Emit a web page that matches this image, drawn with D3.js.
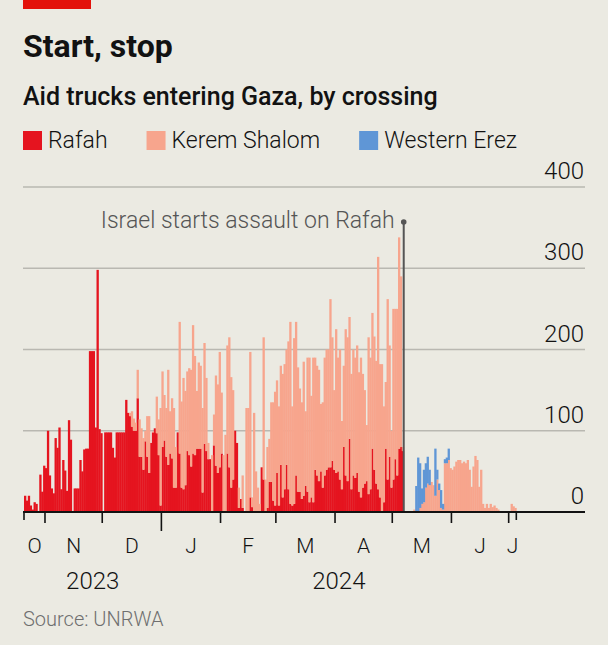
<!DOCTYPE html>
<html lang="en">
<head>
  <meta charset="UTF-8" />
  <title>Start, stop</title>
  <script src="https://d3js.org/d3.v7.min.js"></script>
  <style>
    body {
      margin: 0;
      background: #ebeae2;
    }
    svg {
      display: block;
      font-family: Roboto, 'Noto Sans', sans-serif;
    }
    .grid line {
      stroke: #b9b8b1;
      stroke-width: 1.5px;
    }
    .title {
      font-size: 32px;
      font-weight: 700;
      fill: #121212;
    }
    .subtitle {
      font-size: 25px;
      font-weight: 500;
      fill: #121212;
    }
    .legend text, .ylabel, .month, .year {
      font-weight: 300;
      fill: #121212;
    }
    .source {
      font-size: 20px;
      font-weight: 300;
      fill: #6f6f6f;
    }
    .note {
      font-size: 23px;
      font-weight: 300;
      fill: #555;
    }
  </style>
</head>
<body>

  <svg id="chart" width="608" height="645"></svg>

  <script>
    // daily truck counts from 21 Oct 2023, one value per day
    const firstDay = "2023-10-21";

    const rafah = [
      20, 14, 20, 8, 3, 12, 10, 0, 46, 25,
      57, 54, 100, 45, 29, 23, 91, 79, 104, 28,
      64, 51, 26, 113, 89, 0, 29, 29, 29, 64,
      50, 77, 78, 78, 198, 198, 198, 104, 298, 102,
      97, 0, 98, 98, 98, 98, 79, 67, 98, 98,
      98, 98, 98, 138, 122, 118, 105, 100, 100, 140,
      68, 68, 52, 87, 68, 48, 85, 98, 103, 97,
      70, 8, 80, 88, 68, 58, 72, 66, 30, 30,
      98, 72, 30, 28, 33, 75, 70, 56, 72, 70,
      78, 78, 78, 24, 84, 75, 65, 65, 0, 82,
      57, 48, 55, 72, 0, 0, 72, 55, 30, 40,
      100, 85, 5, 16, 5, 0, 0, 0, 18, 6,
      0, 0, 0, 0, 55, 40, 0, 5, 37, 37,
      14, 8, 48, 8, 58, 18, 28, 58, 28, 10,
      8, 10, 45, 25, 25, 16, 20, 32, 25, 12,
      18, 12, 52, 45, 38, 50, 30, 45, 52, 55,
      55, 63, 52, 48, 50, 40, 28, 80, 45, 38,
      90, 28, 45, 42, 48, 25, 18, 30, 35, 38,
      22, 28, 78, 52, 35, 28, 18, 0, 12, 78,
      40, 68, 30, 40, 65, 45, 78, 80, 75, 0,
      0, 0, 0, 0, 0, 0, 0, 0, 0, 0,
      0, 0, 0, 0, 0, 0, 0, 0, 0, 0,
      0, 0, 0, 0, 0, 0, 0, 0, 0, 0,
      0, 0, 0, 0, 0, 0, 0, 0, 0, 0,
      0, 0, 0, 0, 0, 0, 0, 0, 0, 0,
      0, 0, 0, 0, 0, 0, 0, 0
    ];

    const keremShalom = [
      0, 0, 0, 0, 0, 0, 0, 0, 0, 0,
      0, 0, 0, 0, 0, 0, 0, 0, 0, 0,
      0, 0, 0, 0, 0, 0, 0, 0, 0, 0,
      0, 0, 0, 0, 0, 0, 0, 0, 0, 0,
      0, 0, 0, 0, 0, 0, 0, 0, 0, 0,
      0, 0, 0, 0, 0, 4, 19, 15, 10, 35,
      46, 35, 39, 13, 50, 70, 0, 1, 0, 45,
      44, 120, 93, 56, 60, 117, 52, 74, 98, 50,
      0, 162, 106, 137, 116, 98, 107, 119, 158, 122,
      71, 106, 102, 104, 124, 90, 20, 0, 70, 38,
      111, 109, 142, 75, 70, 95, 133, 160, 136, 110,
      0, 0, 25, 0, 40, 0, 128, 128, 179, 12,
      122, 50, 30, 10, 0, 175, 40, 75, 53, 98,
      121, 140, 114, 122, 122, 152, 154, 142, 182, 224,
      122, 204, 189, 153, 127, 119, 165, 92, 165, 178,
      125, 178, 138, 135, 137, 83, 105, 145, 148, 145,
      207, 152, 98, 177, 140, 160, 84, 100, 180, 177,
      150, 142, 155, 148, 157, 147, 172, 140, 115, 69,
      193, 162, 167, 164, 151, 286, 164, 182, 118, 82,
      222, 137, 70, 210, 185, 205, 260, 210, 5, 0,
      0, 0, 0, 0, 3, 0, 0, 5, 10, 12,
      30, 35, 33, 37, 33, 20, 40, 27, 5, 3,
      60, 60, 64, 54, 52, 56, 62, 64, 64, 60,
      62, 60, 64, 52, 31, 56, 69, 64, 31, 52,
      10, 5, 10, 5, 10, 6, 8, 5, 3, 0,
      0, 0, 0, 0, 0, 10, 7, 5
    ];

    const westernErez = [
      0, 0, 0, 0, 0, 0, 0, 0, 0, 0,
      0, 0, 0, 0, 0, 0, 0, 0, 0, 0,
      0, 0, 0, 0, 0, 0, 0, 0, 0, 0,
      0, 0, 0, 0, 0, 0, 0, 0, 0, 0,
      0, 0, 0, 0, 0, 0, 0, 0, 0, 0,
      0, 0, 0, 0, 0, 0, 0, 0, 0, 0,
      0, 0, 0, 0, 0, 0, 0, 0, 0, 0,
      0, 0, 0, 0, 0, 0, 0, 0, 0, 0,
      0, 0, 0, 0, 0, 0, 0, 0, 0, 0,
      0, 0, 0, 0, 0, 0, 0, 0, 0, 0,
      0, 0, 0, 0, 0, 0, 0, 0, 0, 0,
      0, 0, 0, 0, 0, 0, 0, 0, 0, 0,
      0, 0, 0, 0, 0, 0, 0, 0, 0, 0,
      0, 0, 0, 0, 0, 0, 0, 0, 0, 0,
      0, 0, 0, 0, 0, 0, 0, 0, 0, 0,
      0, 0, 0, 0, 0, 0, 0, 0, 0, 0,
      0, 0, 0, 0, 0, 0, 0, 0, 0, 0,
      0, 0, 0, 0, 0, 0, 0, 0, 0, 0,
      0, 0, 0, 0, 0, 0, 0, 0, 0, 0,
      0, 0, 0, 0, 0, 0, 0, 0, 0, 0,
      0, 0, 0, 0, 0, 32, 67, 55, 19, 40,
      30, 33, 19, 0, 0, 58, 12, 8, 22, 7,
      5, 7, 14, 0, 0, 0, 0, 0, 0, 0,
      0, 0, 0, 0, 0, 0, 0, 0, 0, 0,
      0, 0, 0, 0, 0, 0, 0, 0, 0, 0,
      0, 0, 0, 0, 0, 0, 0, 0
    ];

    const crossings = ["Rafah", "Kerem Shalom", "Western Erez"];
    const colours = ["#e5141f", "#f7a58d", "#5f96d6"];

    const yTicks = [0, 100, 200, 300, 400];
    const tickDates = ["2023-10-21", "2023-11-01", "2023-12-01", "2024-01-01", "2024-02-01",
      "2024-03-01", "2024-04-01", "2024-05-01", "2024-06-01", "2024-07-01", "2024-07-05"];
    const monthLabels = ["O", "N", "D", "J", "F", "M", "A", "M", "J", "J"];
    const years = ["2023", "2024"];
    const yearBreaks = ["2023-10-21", "2024-01-01", "2024-07-05"];

    const assaultDate = "2024-05-07";
    const assaultLabel = "Israel starts assault on Rafah";

    const parse = d3.utcParse("%Y-%m-%d");
    const start = parse(firstDay);

    const rows = rafah.map((v, i) => ({
      date: d3.utcDay.offset(start, i),
      rafah: v,
      kerem: keremShalom[i],
      erez: westernErez[i]
    }));

    const svg = d3.select("#chart");

    const x = d3.scaleUtc()
      .domain([start, parse("2024-08-10")])
      .range([24, 585]);
    const y = d3.scaleLinear().domain([0, 400]).range([512, 187]);

    // header
    svg.append("rect").attr("x", 23).attr("y", 0).attr("width", 68).attr("height", 9).attr("fill", "#e3120b");
    svg.append("text").attr("class", "title").attr("x", 23).attr("y", 57).text("Start, stop");
    svg.append("text").attr("class", "subtitle").attr("x", 23).attr("y", 105)
      .text("Aid trucks entering Gaza, by crossing");

    // legend, laid out by text width
    const legend = svg.append("g").attr("class", "legend");
    let lx = 23;
    crossings.forEach((name, i) => {
      legend.append("rect").attr("x", lx).attr("y", 131).attr("width", 19).attr("height", 19).attr("fill", colours[i]);
      const t = legend.append("text").attr("x", lx + 25).attr("y", 148).attr("font-size", 23).text(name);
      lx = lx + 25 + t.node().getComputedTextLength() + 39;
    });

    // gridlines + labels
    const grid = svg.append("g").attr("class", "grid");
    grid.selectAll("line")
      .data(yTicks.filter(d => d > 0))
      .join("line")
      .attr("x1", 23).attr("x2", 585)
      .attr("y1", d => y(d)).attr("y2", d => y(d));

    svg.append("g").selectAll("text")
      .data(yTicks)
      .join("text")
      .attr("class", "ylabel")
      .attr("x", 584)
      .attr("y", d => y(d) - 8)
      .attr("text-anchor", "end")
      .attr("font-size", 24)
      .text(d => d);

    // stacked bars, slightly overlapped so seams stay faint
    const series = d3.stack().keys(["rafah", "kerem", "erez"])(rows);
    const dayW = x(d3.utcDay.offset(start, 1)) - x(start);

    svg.append("g").selectAll("g")
      .data(series)
      .join("g")
      .attr("fill", (d, i) => colours[i])
      .selectAll("rect")
      .data(d => d.filter(p => p[1] > p[0]))
      .join("rect")
      .attr("x", d => x(d.data.date))
      .attr("width", dayW + 0.4)
      .attr("y", d => y(d[1]))
      .attr("height", d => y(d[0]) - y(d[1]));

    // annotation
    const ax = x(parse(assaultDate));
    svg.append("line")
      .attr("x1", ax).attr("x2", ax)
      .attr("y1", y(357)).attr("y2", y(0))
      .attr("stroke", "#555").attr("stroke-width", 2);
    svg.append("circle").attr("cx", ax).attr("cy", y(357)).attr("r", 2.8).attr("fill", "#555");
    svg.append("text").attr("class", "note")
      .attr("x", ax - 9).attr("y", y(357) + 6)
      .attr("text-anchor", "end")
      .text(assaultLabel);

    // x axis
    svg.append("line")
      .attr("x1", 23).attr("x2", 585)
      .attr("y1", y(0)).attr("y2", y(0))
      .attr("stroke", "#121212").attr("stroke-width", 2);

    const tx = tickDates.map(d => x(parse(d)));
    svg.append("g").selectAll("line")
      .data(tickDates)
      .join("line")
      .attr("x1", (d, i) => tx[i]).attr("x2", (d, i) => tx[i])
      .attr("y1", y(0))
      .attr("y2", (d, i) => {
        if (i === 0 || i === tickDates.length - 1) return y(0) + 8;
        if (d.endsWith("01-01")) return y(0) + 19;
        return y(0) + 11;
      })
      .attr("stroke", "#121212").attr("stroke-width", 1.6);

    svg.append("g").selectAll("text")
      .data(monthLabels)
      .join("text")
      .attr("class", "month")
      .attr("x", (d, i) => (tx[i] + tx[i + 1]) / 2)
      .attr("y", 553)
      .attr("text-anchor", "middle")
      .attr("font-size", 21)
      .text(d => d);

    svg.append("g").selectAll("text")
      .data(years)
      .join("text")
      .attr("class", "year")
      .attr("x", (d, i) => (x(parse(yearBreaks[i])) + x(parse(yearBreaks[i + 1]))) / 2)
      .attr("y", 589)
      .attr("text-anchor", "middle")
      .attr("font-size", 24)
      .text(d => d);

    svg.append("text").attr("class", "source").attr("x", 23).attr("y", 626).text("Source: UNRWA");
  </script>
</body>
</html>
